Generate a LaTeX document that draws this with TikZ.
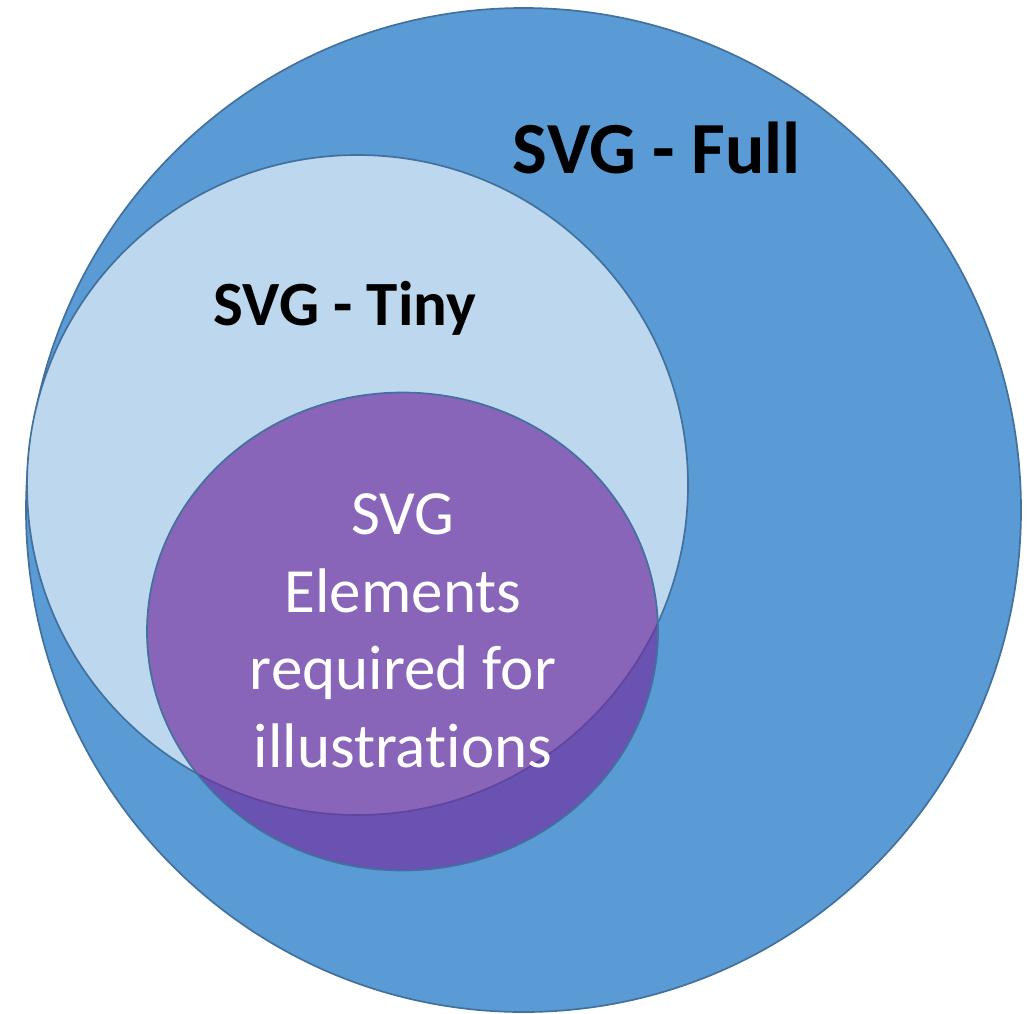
\documentclass[tikz,border=0pt]{standalone}
\usepackage{fontspec}
\setmainfont{Carlito}[Ligatures={NoCommon}]
\usetikzlibrary{shapes.geometric}
\definecolor{fullblue}{HTML}{5B9BD5}
\definecolor{tinyblue}{HTML}{BDD7EE}
\definecolor{elempurple}{HTML}{7030A0}
\definecolor{edgeblue}{HTML}{41719C}
\tikzset{
  setshape/.style={ellipse, draw=edgeblue, line width=1.7pt, inner sep=0pt, outer sep=0pt},
  biglabel/.style={anchor=base, font=\bfseries\fontsize{73.5}{88}\selectfont, text=black, inner sep=0pt},
  midlabel/.style={anchor=base, font=\bfseries\fontsize{63}{76}\selectfont, text=black, inner sep=0pt},
  innerlabel/.style={anchor=base, font=\fontsize{63}{77.5}\selectfont, text=white, inner sep=0pt, align=center}
}
\begin{document}
\begin{tikzpicture}[x=1pt, y=-1pt]
\useasboundingbox (0,0) rectangle (1030,1013);
\node[setshape, fill=fullblue, minimum width=995pt, minimum height=1004pt] (full) at (523.5,510) {};
\node[setshape, fill=tinyblue, minimum width=661pt, minimum height=660pt] (tiny) at (357.5,485) {};
\node[setshape, fill=elempurple, fill opacity=0.68, minimum width=511pt, minimum height=478pt] (elem) at (402.5,631.5) {};
\node[biglabel] (fulltxt) at (657,173) {SVG - Full};
\node[midlabel] (tinytxt) at (345,325) {SVG - Tiny};
\node[innerlabel] (elemtxt) at (403,767) {SVG\\Elements\\required for\\illustrations};
\end{tikzpicture}
\end{document}
